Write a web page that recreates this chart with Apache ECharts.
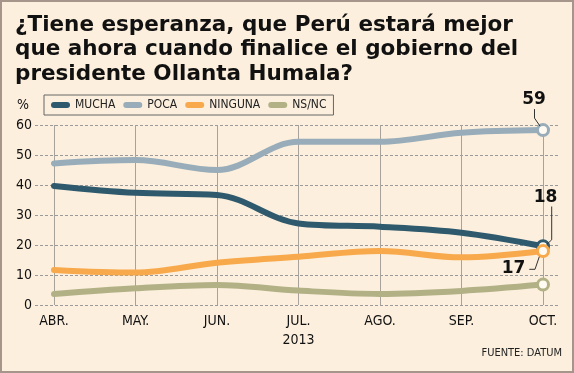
<!DOCTYPE html>
<html>
<head>
<meta charset="utf-8">
<script src="https://cdn.jsdelivr.net/npm/echarts@6/dist/echarts.min.js"></script>
<style>
html,body{margin:0;padding:0;background:#fcefdd;}
#c{width:574px;height:373px;}
</style>
</head>
<body>
<div id="c"></div>
<script>
const categories = ['ABR.', 'MAY.', 'JUN.', 'JUL.', 'AGO.', 'SEP.', 'OCT.'];
const yearLabel = '2013';
const yearIndex = 3;
const seriesNames = ['MUCHA', 'POCA', 'NINGUNA', 'NS/NC'];
const mucha   = [39.7, 37.4, 36.7, 27.2, 26.1, 24.1, 19.6];
const poca    = [47.2, 48.3, 45.0, 54.4, 54.4, 57.4, 58.3];
const ninguna = [11.7, 10.8, 14.1, 16.1, 18.0, 15.9, 18.0];
const nsnc    = [3.7, 5.6, 6.7, 4.8, 3.7, 4.7, 6.8];
const endLabels = ['18', '59', '17', null];
const yMin = 0, yMax = 60, yStep = 10;
const titleText = '¿Tiene esperanza, que Perú estará mejor\nque ahora cuando finalice el gobierno del\npresidente Ollanta Humala?';
const sourceText = 'FUENTE: DATUM';
const unitText = '%';

const colors = ['#2f5a6d', '#98adb9', '#f8a94b', '#b2b186'];
const values = [mucha, poca, ninguna, nsnc];
const bg = '#fcefdd';
const condensed = "'DejaVu Sans Condensed', 'Liberation Sans', sans-serif";
const pill = 'path://M3,0 L16,0 A3,3 0 0 1 16,6 L3,6 A3,3 0 0 1 3,0 Z';

const chart = echarts.init(document.getElementById('c'), null, {renderer: 'canvas'});
const last = categories.length - 1;

const series = seriesNames.map((name, s) => ({
  name: name,
  type: 'line',
  xAxisIndex: 1,
  yAxisIndex: 1,
  smooth: 0.35,
  color: colors[s],
  lineStyle: {width: 6, color: colors[s], cap: 'round'},
  symbol: 'none',
  data: values[s].map((v, i) => i === last ? {
    value: v, symbol: 'circle', symbolSize: 11,
    itemStyle: {color: '#fffaf2', borderColor: colors[s], borderWidth: 3}
  } : {value: v, symbol: 'none'})
}));

chart.setOption({
  backgroundColor: bg,
  animation: false,
  title: {
    text: titleText, left: 10, top: 8,
    textStyle: {fontFamily: "'DejaVu Sans', sans-serif", fontWeight: 'bold', fontSize: 21.5, lineHeight: 24.5, color: '#111'}
  },
  legend: {
    left: 44, top: 95, padding: [4, 7, 4, 7],
    borderColor: '#666', borderWidth: 1, backgroundColor: 'transparent',
    itemWidth: 19, itemHeight: 6, itemGap: 8,
    textStyle: {fontFamily: condensed, fontSize: 12, color: '#222'},
    data: seriesNames.map((n, s) => ({name: n, icon: pill, itemStyle: {color: colors[s], borderWidth: 0}}))
  },
  grid: [
    {left: 35, right: 14, top: 125, bottom: 68},
    {left: 54, right: 31, top: 125, bottom: 68}
  ],
  xAxis: [
    {type: 'category', gridIndex: 0, data: categories, show: false},
    {
      type: 'category', gridIndex: 1, data: categories, boundaryGap: false,
      axisLine: {show: false}, axisTick: {show: false},
      splitLine: {show: true, lineStyle: {color: '#a7a29a', width: 1, type: 'solid'}},
      axisLabel: {
        margin: 7, fontFamily: condensed, fontSize: 14, color: '#111', lineHeight: 19,
        formatter: (v, i) => i === yearIndex ? v + '\n' + yearLabel : v
      }
    }
  ],
  yAxis: [
    {
      type: 'value', gridIndex: 0, min: yMin, max: yMax, interval: yStep,
      axisLine: {show: false}, axisTick: {show: false},
      axisLabel: {margin: 3, fontFamily: condensed, fontSize: 14, color: '#111'},
      splitLine: {show: true, lineStyle: {color: '#9a9a9a', width: 1, type: [3, 2]}}
    },
    {type: 'value', gridIndex: 1, min: yMin, max: yMax, interval: yStep, show: false, splitLine: {show: false}}
  ],
  series: series
});

// end-value callouts positioned relative to the last data points
const calloutShape = [
  {dx: 2.5, dy: -48.7, line: [[8.7, -39.7], [8.7, -6.4], [3.7, -1.7]]},
  {dx: -9, dy: -30.5, line: [[-8.5, -21], [-8.5, -12], [-3, -4]]},
  {dx: -29.5, dy: 17.5, line: [[-13.7, 18.3], [-8, 18.3], [-3.7, 5.7]]},
  null
];
const graphics = [];
seriesNames.forEach((n, s) => {
  if (!endLabels[s]) return;
  const p = chart.convertToPixel({xAxisIndex: 1, yAxisIndex: 1}, [last, values[s][last]]);
  const c = calloutShape[s];
  graphics.push({
    type: 'text', z: 100,
    style: {text: endLabels[s], x: p[0] + c.dx, y: p[1] + c.dy, textAlign: 'center', textVerticalAlign: 'middle',
      font: "bold 17px 'DejaVu Sans', sans-serif", fill: '#111'}
  });
  graphics.push({
    type: 'polyline', z: 99,
    shape: {points: c.line.map(q => [p[0] + q[0], p[1] + q[1]])},
    style: {stroke: '#333', lineWidth: 1, fill: null}
  });
});
graphics.push({
  type: 'text', left: 17, top: 98,
  style: {text: unitText, font: "14px " + condensed, fill: '#111'}
});
graphics.push({
  type: 'text', right: 12, top: 348,
  style: {text: sourceText, font: "11px " + condensed, fill: '#222'}
});
graphics.push({
  type: 'rect', z: 200, silent: true,
  shape: {x: 1, y: 1, width: 572, height: 371},
  style: {fill: null, stroke: '#a5958b', lineWidth: 2}
});
chart.setOption({graphic: graphics});
</script>
</body>
</html>
